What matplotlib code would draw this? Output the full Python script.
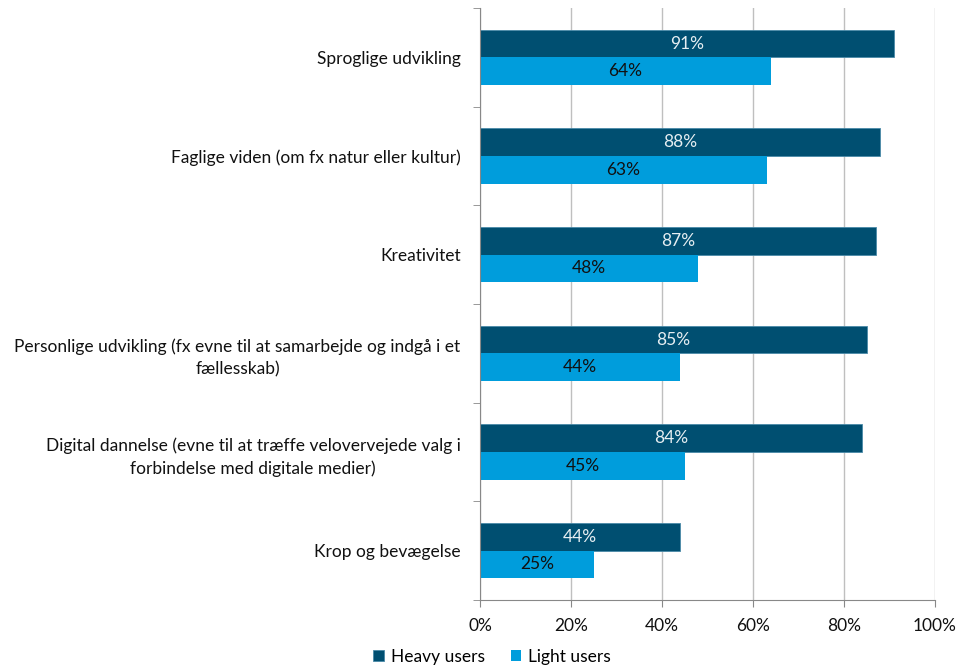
import numpy as np
import matplotlib
matplotlib.use("Agg")
import matplotlib.pyplot as plt
from matplotlib.ticker import FixedLocator, PercentFormatter

plt.rcParams['font.family'] = ['Lato', 'DejaVu Sans']

categories = [
    "Sproglige udvikling",
    "Faglige viden (om fx natur eller kultur)",
    "Kreativitet",
    "Personlige udvikling (fx evne til at samarbejde og indgå i et\nfællesskab)",
    "Digital dannelse (evne til at træffe velovervejede valg i\nforbindelse med digitale medier)",
    "Krop og bevægelse",
]
heavy = [91, 88, 87, 85, 84, 44]
light = [64, 63, 48, 44, 45, 25]

dark_col = "#004F71"
light_col = "#009DDC"
fs = 12.5

fig = plt.figure(figsize=(9.58, 6.66), dpi=100)
ax = fig.add_axes([480/958, 1-600/666, 455/958, 592/666])

n = len(categories)
y = np.arange(n)
h = 0.28
b1 = ax.barh(y - h/2, heavy, height=h, color=dark_col, edgecolor="#4a8aa8", linewidth=0.6, label="Heavy users")
b2 = ax.barh(y + h/2, light, height=h, color=light_col, label="Light users")

# value labels centred inside each bar
for rect, v in zip(b1, heavy):
    ax.text(v/2, rect.get_y() + rect.get_height()/2, f"{v}%", ha="center", va="center",
            color="#E6EEF2", fontsize=fs)
for rect, v in zip(b2, light):
    ax.text(v/2, rect.get_y() + rect.get_height()/2, f"{v}%", ha="center", va="center",
            color="#111111", fontsize=fs)

ax.set_xlim(0, 100)
ax.set_ylim(n - 0.5, -0.5)
ax.xaxis.set_major_locator(FixedLocator([0, 20, 40, 60, 80, 100]))
ax.xaxis.set_major_formatter(PercentFormatter(decimals=0))
ax.grid(axis="x", color="#BFBFBF", linewidth=1)
ax.set_axisbelow(True)

ax.set_yticks(y)
ax.set_yticklabels(categories, fontsize=fs, ha="right", multialignment="center",
                   color="#111111", linespacing=1.5)
ax.yaxis.set_minor_locator(FixedLocator(np.arange(-0.5, n + 0.5, 1)))
ax.tick_params(axis="y", which="major", length=0, pad=14)
ax.tick_params(axis="y", which="minor", length=5, color="#888888")
ax.tick_params(axis="x", length=5, color="#888888", labelsize=fs, pad=8, labelcolor="#111111")

for s in ["top", "right"]:
    ax.spines[s].set_visible(False)
for s in ["left", "bottom"]:
    ax.spines[s].set_color("#888888")

fig.legend(handles=[b1, b2], loc="center", bbox_to_anchor=(492/958, 1-657/666), ncol=2,
           frameon=False, fontsize=fs, handlelength=0.6, handleheight=0.6,
           handletextpad=0.4, columnspacing=1.5)

fig.savefig("out.png", dpi=100)
